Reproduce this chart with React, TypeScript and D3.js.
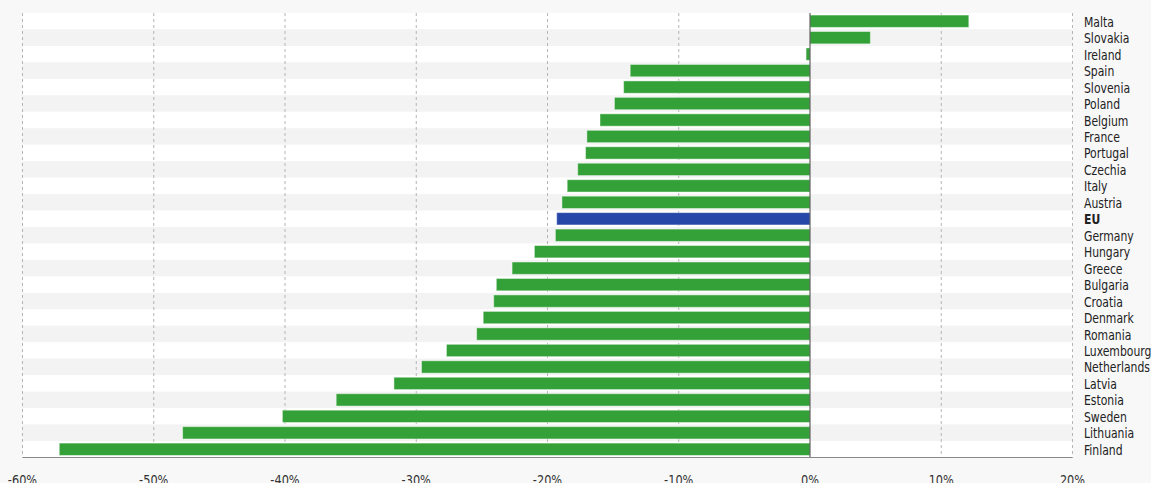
import React from 'react';
import * as d3 from 'd3';

// ─── 数据 ────────────────────────────────────────────────
const countries = [
  'Malta', 'Slovakia', 'Ireland', 'Spain', 'Slovenia', 'Poland', 'Belgium',
  'France', 'Portugal', 'Czechia', 'Italy', 'Austria', 'EU', 'Germany',
  'Hungary', 'Greece', 'Bulgaria', 'Croatia', 'Denmark', 'Romania',
  'Luxembourg', 'Netherlands', 'Latvia', 'Estonia', 'Sweden', 'Lithuania', 'Finland',
];
const changePct = [
  12.1, 4.6, -0.3, -13.7, -14.2, -14.9, -16.0,
  -17.0, -17.1, -17.7, -18.5, -18.9, -19.3, -19.4,
  -21.0, -22.7, -23.9, -24.1, -24.9, -25.4,
  -27.7, -29.6, -31.7, -36.1, -40.2, -47.8, -57.2,
];
const xTicks = [-60, -50, -40, -30, -20, -10, 0, 10, 20];

// ─── 布局 ────────────────────────────────────────────────
const W = 1151;
const H = 483;
const margin = { top: 13, right: 78.5, bottom: 25.5, left: 22.5 };
const FONT = '"DejaVu Sans Condensed", "Liberation Sans Narrow", "Roboto", sans-serif';

export default function App() {
  const x = d3.scaleLinear()
    .domain([-60, 20])
    .range([margin.left, W - margin.right]);

  const band = d3.scaleBand<string>()
    .domain(countries)
    .range([margin.top, H - margin.bottom]);

  const y = d3.scaleBand<string>()
    .domain(countries)
    .range([margin.top, H - margin.bottom])
    .paddingInner(0.25)
    .paddingOuter(0.125);

  const axisY = H - margin.bottom;

  return (
    <svg
      width={W}
      height={H}
      style={{ position: 'fixed', left: 0, top: 0, display: 'block' }}
      fontFamily={FONT}
    >
      <rect x={0} y={0} width={W} height={H} fill="#f8f8f8" />

      {/* 行背景条纹 */}
      {countries.map((c, i) => (
        <rect
          key={'band-' + c}
          x={x(-60)}
          y={band(c)!}
          width={x(20) - x(-60)}
          height={band.bandwidth()}
          fill={i % 2 === 0 ? '#ffffff' : '#f3f3f3'}
        />
      ))}

      {/* 网格线 */}
      {xTicks.filter(t => t !== 0).map(t => (
        <line
          key={'grid-' + t}
          x1={x(t)} x2={x(t)}
          y1={margin.top} y2={axisY}
          stroke="#b5b5b5"
          strokeWidth={1}
          strokeDasharray="3,3"
        />
      ))}

      {/* 柱形 */}
      {countries.map((c, i) => {
        const v = changePct[i];
        return (
          <rect
            key={'bar-' + c}
            x={x(Math.min(0, v))}
            y={y(c)!}
            width={Math.abs(x(v) - x(0))}
            height={y.bandwidth()}
            fill={c === 'EU' ? '#2646a8' : '#33a137'}
            stroke="rgba(255,255,255,0.45)"
            strokeWidth={1}
          />
        );
      })}

      {/* 零线 */}
      <line
        x1={x(0)} x2={x(0)}
        y1={margin.top} y2={axisY}
        stroke="#444" strokeWidth={1}
      />

      {/* X 轴 */}
      <line
        x1={x(-60)} x2={x(20)}
        y1={axisY} y2={axisY}
        stroke="#888" strokeWidth={1.2}
      />
      {xTicks.map(t => (
        <text
          key={'tick-' + t}
          transform={`translate(${x(t)},485) scale(0.9,1.05)`}
          textAnchor="middle"
          fontSize={14}
          fill="#333"
        >
          {t + '%'}
        </text>
      ))}

      {/* 国家标签 */}
      {countries.map(c => (
        <text
          key={'label-' + c}
          transform={`translate(${W - margin.right + 11.5},${band(c)! + band.bandwidth() / 2 + 5.5}) scale(0.86,1.05)`}
          fontSize={14}
          fontWeight={c === 'EU' ? 'bold' : 'normal'}
          fill="#222"
        >
          {c}
        </text>
      ))}
    </svg>
  );
}
